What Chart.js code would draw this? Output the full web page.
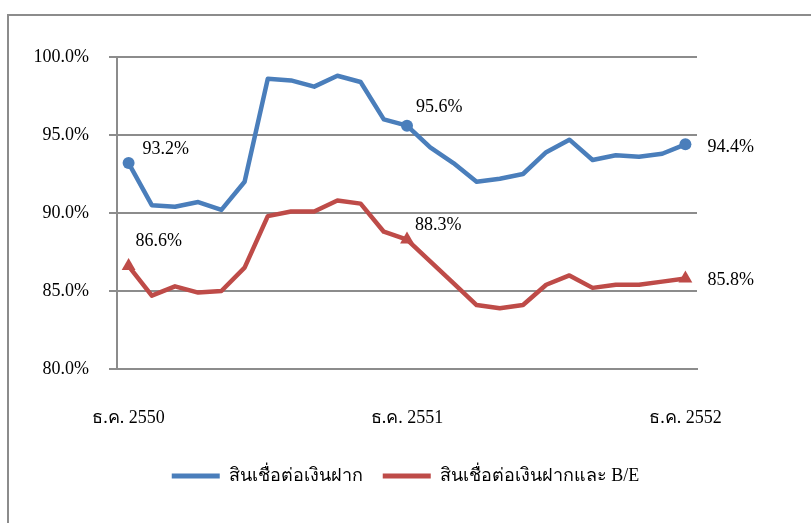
<!DOCTYPE html>
<html>
<head>
<meta charset="utf-8">
<script src="https://cdn.jsdelivr.net/npm/chart.js@4.4.0/dist/chart.umd.min.js"></script>
<style>
  html,body{margin:0;padding:0;background:#fff;}
  #wrap{position:relative;width:811px;height:523px;overflow:hidden;}
  #frame{position:absolute;left:7px;top:14px;width:900px;height:600px;border:2px solid #8c8c8c;box-sizing:border-box;}
  #c{position:absolute;left:0;top:0;}
</style>
</head>
<body>
<div id="wrap">
  <div id="frame"></div>
  <canvas id="c" width="811" height="523"></canvas>
</div>
<script>
// monthly, ธ.ค. 2550 .. ธ.ค. 2552
const months=['ธ.ค. 2550','ม.ค. 2551','ก.พ. 2551','มี.ค. 2551','เม.ย. 2551','พ.ค. 2551','มิ.ย. 2551','ก.ค. 2551','ส.ค. 2551','ก.ย. 2551','ต.ค. 2551','พ.ย. 2551',
  'ธ.ค. 2551','ม.ค. 2552','ก.พ. 2552','มี.ค. 2552','เม.ย. 2552','พ.ค. 2552','มิ.ย. 2552','ก.ค. 2552','ส.ค. 2552','ก.ย. 2552','ต.ค. 2552','พ.ย. 2552','ธ.ค. 2552'];
const loanDep=[93.2,90.5,90.4,90.7,90.2,92.0,98.6,98.5,98.1,98.8,98.4,96.0,95.6,94.2,93.2,92.0,92.2,92.5,93.9,94.7,93.4,93.7,93.6,93.8,94.4];
const loanDepBE=[86.6,84.7,85.3,84.9,85.0,86.5,89.8,90.1,90.1,90.8,90.6,88.8,88.3,86.9,85.5,84.1,83.9,84.1,85.4,86.0,85.2,85.4,85.4,85.6,85.8];
const seriesNames=['สินเชื่อต่อเงินฝาก','สินเชื่อต่อเงินฝากและ B/E'];
const yTicks=[80,85,90,95,100];
const markIdx=[0,12,24];

const SERIF="'Liberation Serif','Times New Roman',serif";
const GRID='#8c8c8c';

// value labels next to the marked points (dx,dy per marked point)
const valueLabels={
  id:'valueLabels',
  afterDatasetsDraw(chart,args,opts){
    const ctx=chart.ctx;
    ctx.save();
    ctx.font='18px '+SERIF;ctx.fillStyle='#000';ctx.textBaseline='middle';ctx.textAlign='left';
    chart.data.datasets.forEach((ds,di)=>{
      const meta=chart.getDatasetMeta(di);
      markIdx.forEach((i,k)=>{
        const p=meta.data[i],o=opts.offsets[di][k];
        ctx.fillText(ds.data[i].toFixed(1)+'%',p.x+o[0],p.y+o[1]);
      });
    });
    ctx.restore();
  }
};

const ptR=(r)=>(c)=>markIdx.includes(c.dataIndex)?r:0;

new Chart(document.getElementById('c'),{
  type:'line',
  data:{labels:months,datasets:[
    {label:seriesNames[0],data:loanDep,borderColor:'#4a7ebb',backgroundColor:'#4a7ebb',borderWidth:4.5,tension:0,
      pointStyle:'circle',pointRadius:ptR(6),pointBorderWidth:0,pointHoverRadius:0,borderJoinStyle:'round',borderCapStyle:'round'},
    {label:seriesNames[1],data:loanDepBE,borderColor:'#be4b48',backgroundColor:'#be4b48',borderWidth:4.5,tension:0,
      pointStyle:'triangle',pointRadius:ptR(8),pointBorderWidth:0,pointHoverRadius:0,borderJoinStyle:'round',borderCapStyle:'round'},
  ]},
  options:{
    responsive:false,animation:false,
    layout:{padding:{left:0,right:0,top:57,bottom:28}},
    plugins:{
      tooltip:{enabled:false},
      legend:{position:'bottom',
        labels:{font:{family:SERIF,size:18},color:'#000',boxWidth:48,boxHeight:5,padding:20,
          generateLabels:(chart)=>Chart.defaults.plugins.legend.labels.generateLabels(chart).map(l=>Object.assign(l,{lineWidth:0,fillStyle:l.strokeStyle}))}},
      valueLabels:{offsets:[[[14,-14],[9,-18],[22,3]],[[7,-25],[8,-14],[22,2]]]}
    },
    scales:{
      x:{offset:true,
        grid:{offset:true,drawOnChartArea:false,drawTicks:true,tickLength:8,lineWidth:2,
          color:(c)=>[0,12,24].includes(c.index)?GRID:'rgba(0,0,0,0)'},
        border:{display:true,color:GRID,width:2},
        ticks:{autoSkip:false,maxRotation:0,padding:30,font:{family:SERIF,size:18},color:'#000',
          callback:(v,i)=>markIdx.includes(i)?months[i]:null},
        afterFit:(s)=>{s.height=78;}
      },
      y:{min:80,max:100,
        afterBuildTicks:(s)=>{s.ticks=yTicks.map(v=>({value:v}));},
        grid:{color:GRID,lineWidth:2,tickLength:8},
        border:{display:true,color:GRID,width:2},
        ticks:{padding:20,font:{family:SERIF,size:18},color:'#000',callback:(v)=>v.toFixed(1)+'%'},
        afterFit:(s)=>{s.width=117;}
      },
      yR:{position:'right',display:true,grid:{display:false},border:{display:false},ticks:{display:false},
        afterFit:(s)=>{s.width=114;}}
    }
  },
  plugins:[valueLabels]
});
</script>
</body>
</html>
